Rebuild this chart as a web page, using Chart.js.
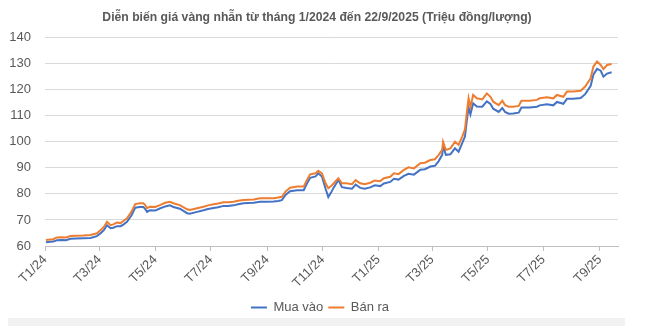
<!DOCTYPE html>
<html>
<head>
<meta charset="utf-8">
<script src="https://cdn.jsdelivr.net/npm/chart.js@4/dist/chart.umd.min.js"></script>
<style>
  html, body { margin: 0; padding: 0; background: #ffffff; }
  #wrap { position: relative; width: 648px; height: 326px; overflow: hidden; }
  #band { position: absolute; left: 8px; top: 318px; width: 617px; height: 8px; background: #f2f2f2; }
  #c { position: absolute; left: 0; top: 0; }
</style>
</head>
<body>
<div id="wrap">
  <div id="band"></div>
  <canvas id="c" width="648" height="326"></canvas>
</div>
<script>
const dates = [
'2024-01-02','2024-01-07','2024-01-10','2024-01-14','2024-01-20','2024-01-24','2024-01-29','2024-02-04','2024-02-12','2024-02-20',
'2024-02-27','2024-03-03','2024-03-06','2024-03-09','2024-03-13','2024-03-16','2024-03-20','2024-03-24','2024-03-27','2024-03-31',
'2024-04-05','2024-04-09','2024-04-14','2024-04-18','2024-04-20','2024-04-22','2024-04-25','2024-05-01','2024-05-06','2024-05-12',
'2024-05-17','2024-05-21','2024-05-28','2024-06-05','2024-06-08','2024-06-16','2024-06-23','2024-06-28','2024-07-04','2024-07-09',
'2024-07-15','2024-07-20','2024-07-26','2024-07-31','2024-08-06','2024-08-11','2024-08-17','2024-08-24','2024-08-31','2024-09-08',
'2024-09-13','2024-09-17','2024-09-21','2024-09-26','2024-10-04','2024-10-11','2024-10-14','2024-10-18','2024-10-24','2024-10-27',
'2024-10-31','2024-11-04','2024-11-07','2024-11-10','2024-11-13','2024-11-16','2024-11-18','2024-11-22','2024-11-27','2024-12-03',
'2024-12-07','2024-12-12','2024-12-17','2024-12-23','2024-12-28','2025-01-03','2025-01-07','2025-01-14','2025-01-18','2025-01-23',
'2025-01-29','2025-02-03','2025-02-09','2025-02-16','2025-02-21','2025-02-27','2025-03-04','2025-03-08','2025-03-12','2025-03-13',
'2025-03-16','2025-03-21','2025-03-26','2025-03-30','2025-04-03','2025-04-06','2025-04-08','2025-04-10','2025-04-12','2025-04-15',
'2025-04-19','2025-04-25','2025-04-30','2025-05-04','2025-05-07','2025-05-13','2025-05-17','2025-05-20','2025-05-24','2025-05-29',
'2025-06-04','2025-06-07','2025-06-16','2025-06-24','2025-06-27','2025-07-05','2025-07-12','2025-07-16','2025-07-23','2025-07-27',
'2025-08-03','2025-08-11','2025-08-16','2025-08-22','2025-08-25','2025-08-29','2025-09-02','2025-09-05','2025-09-09','2025-09-14'
];
const banRa = [
62.3,62.5,62.6,63.3,63.4,63.3,63.8,63.9,64.0,64.2,
64.9,66.4,67.5,69.3,68.0,68.3,69.0,68.8,69.6,70.6,
73.2,76.1,76.4,76.4,75.7,74.5,75.1,75.0,75.7,76.6,
77.0,76.4,75.7,74.1,73.8,74.5,75.1,75.6,76.0,76.3,
76.8,76.8,77.0,77.4,77.7,77.8,77.9,78.3,78.3,78.3,
78.6,78.9,80.9,82.4,82.8,82.8,85.0,87.5,87.9,88.9,
87.9,84.1,82.2,83.0,84.1,85.3,86.0,84.1,84.1,83.7,
85.3,84.1,83.7,84.3,85.1,84.9,86.0,86.6,87.9,87.6,
89.2,90.2,89.8,91.8,92.0,93.0,93.3,94.9,96.9,100.0,
96.9,97.5,100.0,98.8,102.0,104.8,111.0,116.7,113.5,118.0,
116.7,116.3,118.6,117.3,115.4,114.1,115.8,114.1,113.5,113.5,
113.8,115.8,115.8,116.1,116.7,117.1,116.7,118.0,117.3,119.3,
119.3,119.6,121.2,124.4,128.9,130.8,129.5,127.9,129.5,129.9
];
const muaVao = [
61.4,61.6,61.7,62.2,62.3,62.2,62.8,62.9,63.0,63.1,
63.8,65.2,66.3,68.0,66.8,67.0,67.6,67.6,68.2,69.3,
71.8,74.7,75.0,75.0,74.2,73.1,73.7,73.6,74.4,75.2,
75.6,75.0,74.3,72.6,72.4,73.1,73.7,74.2,74.6,74.9,
75.4,75.4,75.6,76.0,76.4,76.5,76.6,77.0,77.0,77.1,
77.3,77.6,79.6,81.0,81.4,81.4,83.6,86.2,86.7,87.9,
86.7,82.0,78.8,80.5,82.5,84.2,85.4,82.6,82.3,82.0,
83.6,82.3,82.0,82.5,83.3,83.0,84.0,84.6,85.8,85.5,
86.9,87.7,87.4,89.3,89.5,90.5,90.8,92.5,95.0,98.5,
95.0,95.2,97.5,96.2,99.5,102.0,108.0,113.2,110.5,114.8,
113.6,113.5,115.5,114.5,112.7,111.5,113.0,111.5,110.8,110.9,
111.2,113.2,113.2,113.5,114.0,114.4,114.0,115.3,114.6,116.5,
116.5,116.8,118.3,121.5,125.8,128.0,127.3,125.0,126.2,126.7
];
const tickDates = ['2024-01-01','2024-03-01','2024-05-01','2024-07-01','2024-09-01','2024-11-01','2025-01-01','2025-03-01','2025-05-01','2025-07-01','2025-09-01'];
const tickLabels = ['T1/24','T3/24','T5/24','T7/24','T9/24','T11/24','T1/25','T3/25','T5/25','T7/25','T9/25'];
const yTicks = [60,70,80,90,100,110,120,130,140];
const seriesNames = ['Mua vào','Bán ra'];
const titleText = 'Diễn biến giá vàng nhẫn từ tháng 1/2024 đến 22/9/2025 (Triệu đồng/lượng)';

const origin = Date.UTC(2024,0,1);
function dayIndex(s){ const p = s.split('-').map(Number); return Math.round((Date.UTC(p[0],p[1]-1,p[2]) - origin)/86400000); }
const xs = dates.map(dayIndex);
const tickX = tickDates.map(dayIndex);

const BLUE = '#4472C4', ORANGE = '#ED7D31', TEXT = '#595959', GRID = '#d9d9d9';
const FONT = "'Liberation Sans', Arial, sans-serif";

const shiftBoxes = {
  id: 'shiftBoxes',
  afterLayout(chart) {
    if (chart.titleBlock) { chart.titleBlock.left += 8; chart.titleBlock.right += 8; }
    if (chart.legend) { chart.legend.left += 11; chart.legend.right += 11; }
  }
};

new Chart(document.getElementById('c'), {
  type: 'line',
  data: {
    datasets: [
      { label: seriesNames[0], data: xs.map((x,i)=>({x, y: muaVao[i]})), borderColor: BLUE, backgroundColor: BLUE, borderWidth: 2, pointRadius: 0, tension: 0, order: 1 },
      { label: seriesNames[1], data: xs.map((x,i)=>({x, y: banRa[i]})), borderColor: ORANGE, backgroundColor: ORANGE, borderWidth: 2, pointRadius: 0, tension: 0, order: 0 }
    ]
  },
  plugins: [shiftBoxes],
  options: {
    responsive: false,
    animation: false,
    layout: { padding: { left: 0, right: 30, top: 0, bottom: 2 } },
    plugins: {
      title: { display: true, text: titleText, color: TEXT, font: { family: "'Liberation Sans Narrow', 'Liberation Sans', sans-serif", size: 12.2, weight: 'bold' }, padding: { top: 10, bottom: 13 } },
      legend: { position: 'bottom', labels: { color: TEXT, font: { family: FONT, size: 13 }, usePointStyle: true, pointStyle: 'line', pointStyleWidth: 16, boxHeight: 13, padding: 5, sort: (a,b)=>a.datasetIndex-b.datasetIndex } },
      tooltip: { enabled: false }
    },
    scales: {
      x: {
        type: 'linear', min: 0, max: 629,
        afterBuildTicks: s => { s.ticks = tickX.map(v => ({ value: v })); },
        afterFit: s => { s.height = 50; },
        ticks: { autoSkip: false, minRotation: 45, maxRotation: 45, color: TEXT, font: { family: FONT, size: 13 }, padding: 1, callback: (v, i) => tickLabels[i] },
        grid: { drawOnChartArea: false, drawTicks: true, tickLength: 5, color: '#bfbfbf' },
        border: { display: true, color: '#bfbfbf' }
      },
      y: {
        min: 60, max: 140,
        afterBuildTicks: s => { s.ticks = yTicks.map(v => ({ value: v })); },
        afterFit: s => { s.width = 45; },
        ticks: { color: TEXT, font: { family: FONT, size: 13 }, padding: 14 },
        grid: { color: GRID, drawTicks: false },
        border: { display: false }
      }
    }
  }
});
</script>
</body>
</html>
